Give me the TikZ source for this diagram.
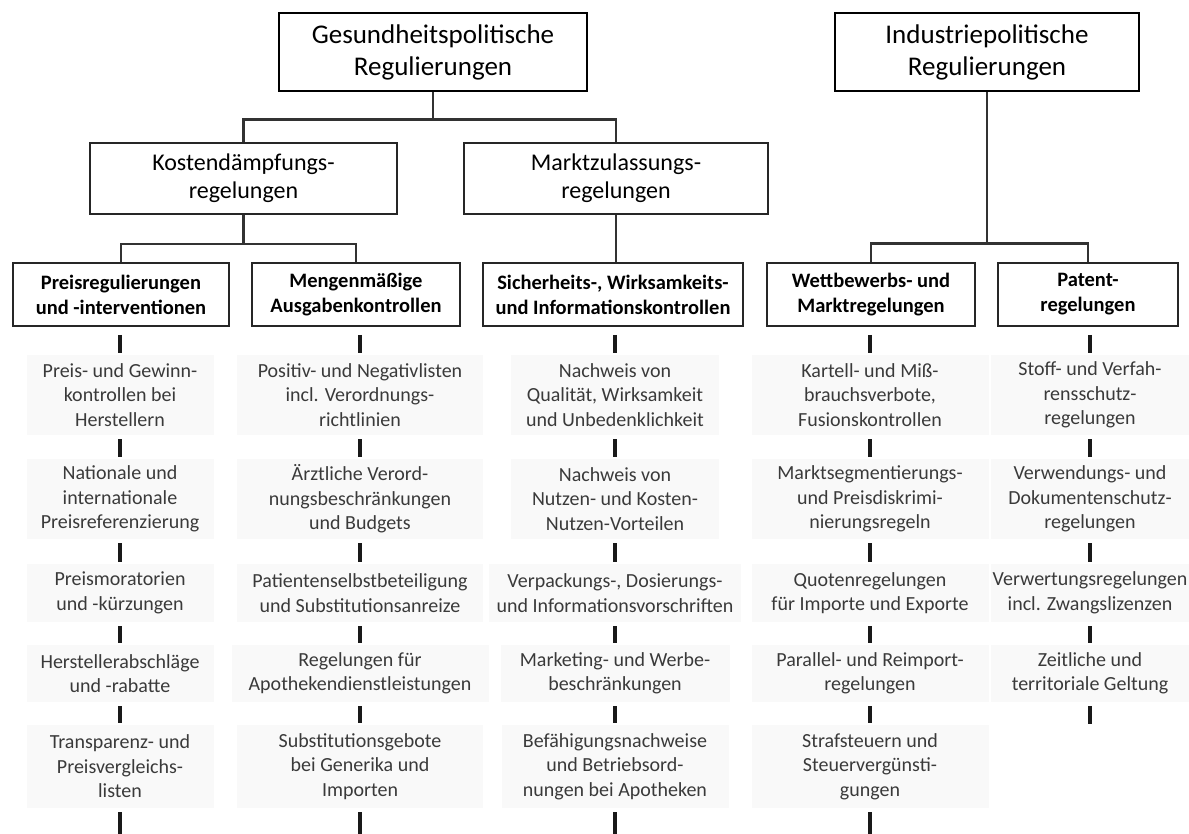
\documentclass[tikz,border=0pt]{standalone}
\usepackage{fontspec}
\setmainfont{Carlito}
\usetikzlibrary{positioning, shadows}
\definecolor{linegray}{RGB}{50,50,50}
\definecolor{leafgray}{RGB}{249,249,249}
\definecolor{leaftext}{RGB}{58,58,58}

\tikzset{
  topbox/.style={draw=black, line width=2.6pt, fill=white, align=center, minimum height=78pt, font=\fontsize{27}{32}\selectfont},
  midbox/.style={draw=black!85, line width=1.9pt, fill=white, align=center, minimum height=71pt, font=\fontsize{24}{28}\selectfont},
  subbox/.style={draw=black!85, line width=1.7pt, fill=white, align=center, minimum height=63pt, font=\bfseries\fontsize{20.5}{25}\selectfont,
    general shadow={shadow xshift=1.3pt, shadow yshift=-1.3pt, fill=black!70}},
  leaf/.style 2 args={fill=leafgray, text=leaftext, align=center, inner sep=0pt, minimum width=#1pt, minimum height=#2pt, font=\fontsize{20}{24.5}\selectfont},
  conn/.style={draw=linegray, line width=2.6pt},
  bar/.style={draw=black!90, line width=3.2pt, shorten <=4pt, shorten >=2pt},
}

\begin{document}
\begin{tikzpicture}[x=1pt, y=-1pt]
  \useasboundingbox (0,0) rectangle (1189,834);

  % obere Ebene
  \node[topbox, minimum width=308pt] (gesund) at (433,52) {Gesundheitspolitische\\Regulierungen};
  \node[topbox, minimum width=304pt] (indus) at (987,52) {Industriepolitische\\Regulierungen};

  % zweite Ebene
  \node[midbox, minimum width=307pt] (kosten) at (243.5,178.5) {Kostendämpfungs-\\regelungen};
  \node[midbox, minimum width=304pt] (markt) at (616,178.5) {Marktzulassungs-\\regelungen};

  % dritte Ebene
  \node[subbox, minimum width=216pt] (preis) at (121,294.5) {Preisregulierungen\\und -interventionen};
  \node[subbox, minimum width=208pt] (mengen) at (356,294.5) {Mengenmäßige\\Ausgabenkontrollen};
  \node[subbox, minimum width=260pt] (sicher) at (613,294.5) {Sicherheits-, Wirksamkeits-\\und Informationskontrollen};
  \node[subbox, minimum width=208pt] (wett) at (871,294.5) {Wettbewerbs- und\\Marktregelungen};
  \node[subbox, minimum width=180pt] (patent) at (1088,294.5) {Patent-\\regelungen};

  % Verbindungen
  \draw[conn] (gesund.south) -- ++(0,27) -| (kosten.north);
  \draw[conn] (gesund.south) -- ++(0,27) -| (markt.north);
  \draw[conn] (kosten.south) -- ++(0,29) -| (preis.north);
  \draw[conn] (kosten.south) -- ++(0,29) -| (mengen.north);
  \draw[conn] (markt.south) -- (markt.south |- sicher.north);
  \draw[conn] (indus.south) -- ++(0,151) -| (wett.north);
  \draw[conn] (indus.south) -- ++(0,151) -| (patent.north);

  % Preisregulierungen
  \node[leaf={187}{80}] (p1) at (120,395) {Preis- und Gewinn-\\kontrollen bei\\Herstellern};
  \node[leaf={187}{80}] (p2) at (120,499) {Nationale und\\internationale\\Preisreferenzierung};
  \node[leaf={187}{58}] (p3) at (120,593) {Preismoratorien\\und -kürzungen};
  \node[leaf={187}{57}] (p4) at (120,673.5) {Herstellerabschläge\\und -rabatte};
  \node[leaf={187}{83}] (p5) at (120,766.5) {Transparenz- und\\Preisvergleichs-\\listen};

  % Mengenmaessige Ausgabenkontrollen
  \node[leaf={246}{80}] (m1) at (360,395) {Positiv- und Negativlisten\\incl. Verordnungs-\\richtlinien};
  \node[leaf={246}{80}] (m2) at (360,499) {Ärztliche Verord-\\nungsbeschränkungen\\und Budgets};
  \node[leaf={246}{58}] (m3) at (360,593) {Patientenselbstbeteiligung\\und Substitutionsanreize};
  \node[leaf={257}{57}] (m4) at (360,673.5) {Regelungen für\\Apothekendienstleistungen};
  \node[leaf={246}{83}] (m5) at (360,766.5) {Substitutionsgebote\\bei Generika und\\Importen};

  % Sicherheitskontrollen
  \node[leaf={208}{80}] (s1) at (615,395) {Nachweis von\\Qualität, Wirksamkeit\\und Unbedenklichkeit};
  \node[leaf={208}{80}] (s2) at (615,499) {Nachweis von\\Nutzen- und Kosten-\\Nutzen-Vorteilen};
  \node[leaf={252}{58}] (s3) at (615,593) {Verpackungs-, Dosierungs-\\und Informationsvorschriften};
  \node[leaf={229}{57}] (s4) at (615,673.5) {Marketing- und Werbe-\\beschränkungen};
  \node[leaf={227}{83}] (s5) at (615,766.5) {Befähigungsnachweise\\und Betriebsord-\\nungen bei Apotheken};

  % Wettbewerbsregelungen
  \node[leaf={237}{80}] (w1) at (870,395) {Kartell- und Miß-\\brauchsverbote,\\Fusionskontrollen};
  \node[leaf={237}{80}] (w2) at (870,499) {Marktsegmentierungs-\\und Preisdiskrimi-\\nierungsregeln};
  \node[leaf={237}{58}] (w3) at (870,593) {Quotenregelungen\\für Importe und Exporte};
  \node[leaf={237}{57}] (w4) at (870,673.5) {Parallel- und Reimport-\\regelungen};
  \node[leaf={237}{83}] (w5) at (870,766.5) {Strafsteuern und\\Steuervergünsti-\\gungen};

  % Patentregelungen
  \node[leaf={198}{80}] (t1) at (1090,395) {Stoff- und Verfah-\\rensschutz-\\regelungen};
  \node[leaf={198}{80}] (t2) at (1090,499) {Verwendungs- und\\Dokumentenschutz-\\regelungen};
  \node[leaf={198}{58}] (t3) at (1090,593) {Verwertungsregelungen\\incl. Zwangslizenzen};
  \node[leaf={198}{57}] (t4) at (1090,673.5) {Zeitliche und\\territoriale Geltung};

  % kurze Striche zwischen den Feldern
  \draw[bar, shorten <=8pt] (p1.north |- preis.south) -- (p1.north);
  \draw[bar, shorten <=8pt] (m1.north |- mengen.south) -- (m1.north);
  \draw[bar, shorten <=8pt] (s1.north |- sicher.south) -- (s1.north);
  \draw[bar, shorten <=8pt] (w1.north |- wett.south) -- (w1.north);
  \draw[bar, shorten <=8pt] (t1.north |- patent.south) -- (t1.north);
  \foreach \c in {p,m,s,w}
    \foreach \i/\j in {1/2,2/3,3/4,4/5}
      \draw[bar] (\c\i) -- (\c\j);
  \foreach \i/\j in {1/2,2/3,3/4}
    \draw[bar] (t\i) -- (t\j);

  % offene Enden
  \coordinate (pend) at (120,840);
  \coordinate (mend) at (360,840);
  \coordinate (send) at (615,840);
  \coordinate (wend) at (870,840);
  \coordinate (tend) at (1090,724);
  \foreach \c in {p,m,s,w}
    \draw[bar, shorten >=0pt] (\c5) -- (\c end);
  \draw[bar, shorten >=0pt] (t4) -- (tend);
\end{tikzpicture}
\end{document}
